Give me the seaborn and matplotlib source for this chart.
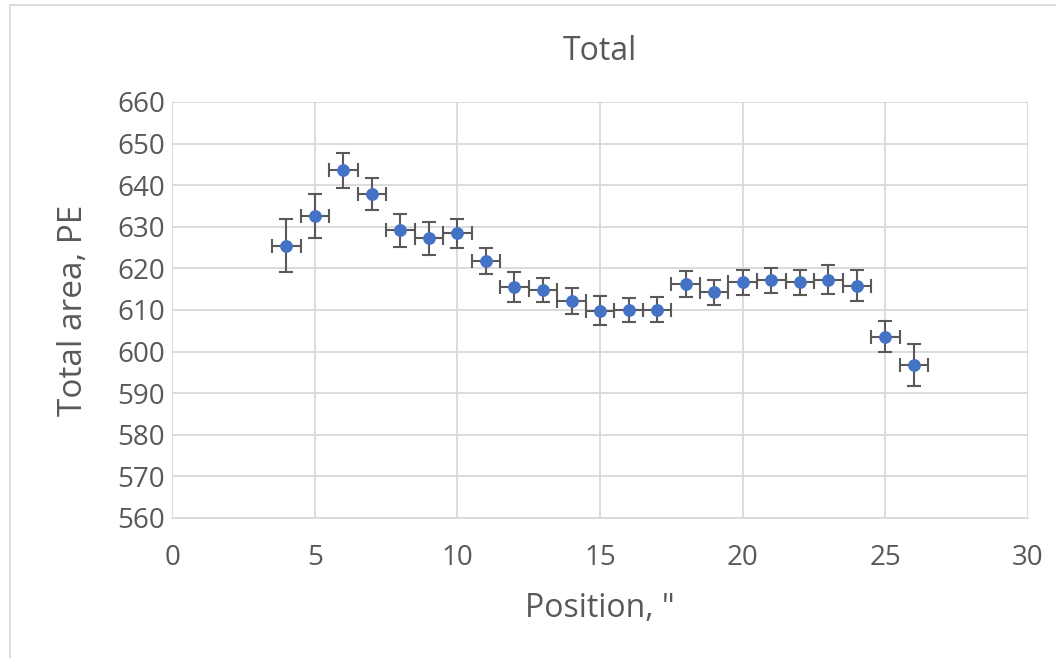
import pandas as pd
import matplotlib.pyplot as plt
import seaborn as sns
from matplotlib.patches import Rectangle

# Datos
posicion = [4, 5, 6, 7, 8, 9, 10, 11, 12, 13, 14, 15, 16, 17, 18, 19, 20, 21, 22, 23, 24, 25, 26]
area_total = [625.4, 632.6, 643.6, 637.9, 629.1, 627.2, 628.4, 621.8, 615.5, 614.7, 612.2, 609.8, 609.9, 610.1,
              616.2, 614.3, 616.7, 617.1, 616.6, 617.3, 615.8, 603.6, 596.8]
error_y = [6.4, 5.3, 4.2, 3.9, 4.0, 4.0, 3.4, 3.2, 3.5, 2.9, 3.1, 3.5, 2.9, 3.0,
           3.1, 3.0, 3.0, 3.0, 3.0, 3.4, 3.7, 3.7, 5.0]
error_x = [0.5] * len(posicion)

datos = pd.DataFrame({'Posicion': posicion, 'Area': area_total})

sns.set_style('whitegrid')
plt.rcParams['font.family'] = ['Open Sans', 'DejaVu Sans']

fig = plt.figure(figsize=(10.56, 6.58), dpi=100)
ax = fig.add_axes([0.163, 0.213, 0.8105, 0.632])

# Barras de error en ambos ejes
ax.errorbar(posicion, area_total, xerr=error_x, yerr=error_y, fmt='none',
            ecolor='#595959', elinewidth=1.5, capsize=5, capthick=1.5, zorder=2)
sns.scatterplot(x='Posicion', y='Area', data=datos, color='#4472C4', s=85,
                edgecolor='#4472C4', linewidth=0, zorder=3, ax=ax)

ax.set_xlim(0, 30)
ax.set_ylim(560, 660)
ax.set_xticks(range(0, 31, 5))
ax.set_yticks(range(560, 661, 10))
ax.grid(True, color='#D9D9D9', linewidth=1.3)
for lado in ['top', 'right', 'left']:
    ax.spines[lado].set_visible(False)
ax.spines['bottom'].set_color('#D9D9D9')
ax.spines['bottom'].set_linewidth(1.3)
ax.tick_params(axis='both', labelsize=20, colors='#595959', length=0)
ax.tick_params(axis='x', pad=19)
ax.tick_params(axis='y', pad=5)

ax.set_title('Total', fontsize=23, color='#595959', pad=30)
ax.set_xlabel('Position, "', fontsize=23, color='#595959', labelpad=14)
ax.set_ylabel('Total area, PE', fontsize=24, color='#595959', labelpad=20)

# Borde del área del gráfico
fig.patches.append(Rectangle((10 / 1056, -0.01), 1.02, 1 - 5 / 658 + 0.01, transform=fig.transFigure,
                             fill=False, edgecolor='#D9D9D9', linewidth=1.3))

plt.savefig('out.png', dpi=100)
